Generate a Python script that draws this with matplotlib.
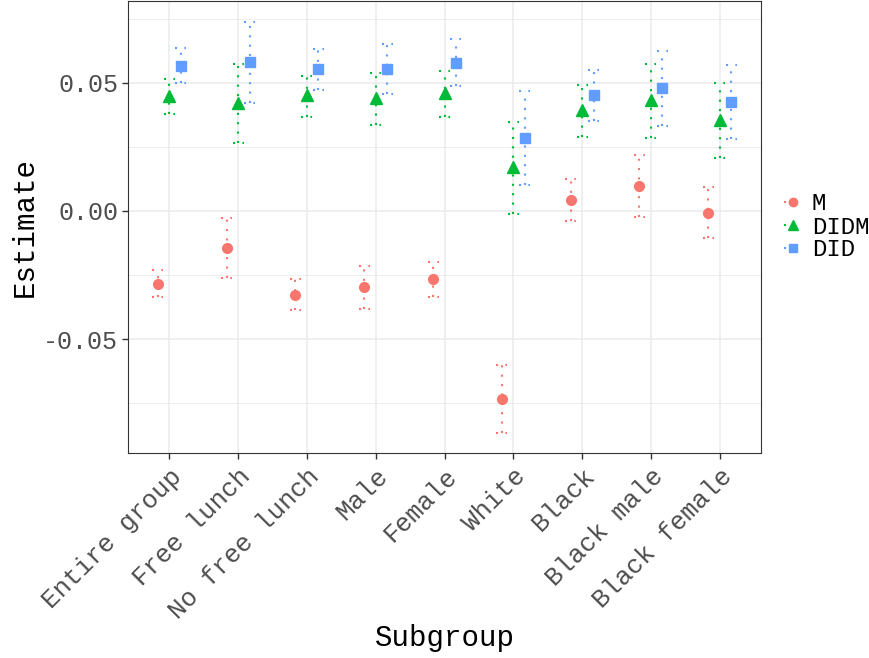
import numpy as np
import matplotlib.pyplot as plt
from matplotlib.lines import Line2D

plt.rcParams['font.family'] = ['Liberation Mono', 'DejaVu Sans Mono']

subgroups = ['Entire group', 'Free lunch', 'No free lunch', 'Male', 'Female',
             'White', 'Black', 'Black male', 'Black female']

# estimates and confidence bounds
m_est = [-0.0284, -0.0145, -0.0327, -0.0298, -0.0267, -0.0734, 0.0043, 0.0099, -0.0007]
m_lo = [-0.0337, -0.0263, -0.0387, -0.0382, -0.0337, -0.0868, -0.0038, -0.0022, -0.0107]
m_hi = [-0.0230, -0.0027, -0.0267, -0.0216, -0.0200, -0.0602, 0.0124, 0.0219, 0.0093]

didm_est = [0.0450, 0.0423, 0.0452, 0.0441, 0.0460, 0.0171, 0.0395, 0.0434, 0.0354]
didm_lo = [0.0379, 0.0267, 0.0366, 0.0337, 0.0367, -0.0013, 0.0289, 0.0285, 0.0206]
didm_hi = [0.0514, 0.0574, 0.0529, 0.0538, 0.0547, 0.0346, 0.0491, 0.0575, 0.0499]

did_est = [0.0568, 0.0581, 0.0553, 0.0556, 0.0579, 0.0284, 0.0452, 0.0479, 0.0426]
did_lo = [0.0499, 0.0422, 0.0471, 0.0458, 0.0487, 0.0100, 0.0352, 0.0332, 0.0282]
did_hi = [0.0635, 0.0738, 0.0633, 0.0654, 0.0671, 0.0467, 0.0552, 0.0624, 0.0570]

series = [
    ('M', m_est, m_lo, m_hi, '#F8766D', 'o', 7, -1 / 6),
    ('DIDM', didm_est, didm_lo, didm_hi, '#00BA38', '^', 8, 0.0),
    ('DID', did_est, did_lo, did_hi, '#619CFF', 's', 6.5, 1 / 6),
]

fig = plt.figure(figsize=(8.69, 6.58), dpi=100)
ax = fig.add_axes([128 / 869, 1 - 453 / 658, (761 - 128) / 869, 452 / 658])

x = np.arange(len(subgroups))
dot = (0, (1, 3.5))
lw = 1.5
handles = []
for name, est, lo, hi, col, mk, ms, off in series:
    xs = x + off
    ax.vlines(xs, lo, hi, colors=col, linestyles=dot, linewidth=lw, zorder=3)
    ax.hlines(lo, xs - 0.08, xs + 0.08, colors=col, linestyles=dot, linewidth=lw, zorder=3)
    ax.hlines(hi, xs - 0.08, xs + 0.08, colors=col, linestyles=dot, linewidth=lw, zorder=3)
    ax.plot(xs, est, linestyle='none', marker=mk, markersize=ms, color=col, zorder=4)
    handles.append(Line2D([0], [0], color=col, linestyle=dot, linewidth=lw,
                          marker=mk, markersize=ms - 1, label=name))

ax.set_xlim(-0.6, len(subgroups) - 0.4)
ax.set_ylim(-0.0945, 0.0820)
ax.set_xticks(x)
ax.set_xticklabels(subgroups, rotation=45, ha='right', rotation_mode='anchor',
                   fontsize=18.5, color='#4D4D4D')
ax.set_yticks([-0.05, 0.0, 0.05])
ax.set_yticklabels(['-0.05', '0.00', '0.05'], fontsize=18, color='#4D4D4D')
ax.set_yticks([-0.075, -0.025, 0.025, 0.075], minor=True)
ax.tick_params(axis='both', which='major', length=4, width=1, color='#333333', pad=3)
ax.tick_params(axis='x', which='major', pad=4)
ax.tick_params(axis='y', which='minor', length=0)
ax.grid(True, which='major', color='#EBEBEB', linewidth=1.1, zorder=0)
ax.grid(True, which='minor', axis='y', color='#EBEBEB', linewidth=0.6, zorder=0)
ax.set_axisbelow(True)
for sp in ax.spines.values():
    sp.set_color('#333333')
    sp.set_linewidth(0.8)

ax.set_xlabel('Subgroup', fontsize=21, labelpad=0)
ax.set_ylabel('Estimate', fontsize=21, labelpad=3)

ax.legend(handles=handles, loc='center left', bbox_to_anchor=(1.01, 0.5), frameon=False,
          fontsize=17.3, handlelength=0.7, handletextpad=0.45, labelspacing=0.0,
          borderaxespad=0.5, borderpad=0.2)

fig.savefig('out.png', dpi=100)
